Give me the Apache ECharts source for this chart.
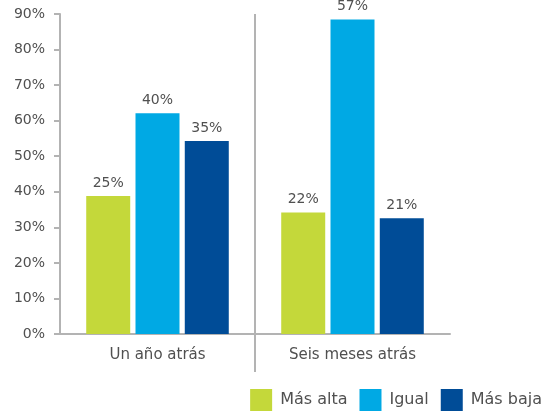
<!DOCTYPE html>
<html><head><meta charset="utf-8">
<script src="https://cdn.jsdelivr.net/npm/echarts@6/dist/echarts.min.js"></script>
<style>html,body{margin:0;padding:0;background:#fff}#c{width:558px;height:417px}</style>
</head><body><div id="c"></div>
<script>
const categories = ['Un año atrás', 'Seis meses atrás'];
const seriesNames = ['Más alta', 'Igual', 'Más baja'];
const masAlta = [25, 22];
const igual = [40, 57];
const masBaja = [35, 21];
const yTickLabels = ['0%', '10%', '20%', '30%', '40%', '50%', '60%', '70%', '80%', '90%'];
const colors = ['#c4d83a', '#00a9e4', '#004c97'];

const FONT = 'DejaVu Sans';
const AXIS = '#b3b3b3';
const TXT = '#505050';

const chart = echarts.init(document.getElementById('c'), null, {renderer: 'canvas'});

function barSeries(name, data, color) {
  return {
    name: name, type: 'bar', yAxisIndex: 1, data: data,
    barWidth: 44, barGap: '12%',
    itemStyle: {color: color},
    label: {show: true, position: 'top', distance: 6, formatter: '{c}%',
      fontFamily: FONT, fontSize: 14, color: TXT}
  };
}

chart.setOption({
  animation: false,
  backgroundColor: '#fff',
  grid: {left: 60, right: 108, top: 14, bottom: 83},
  legend: {
    data: seriesNames, right: 11, bottom: 1, icon: 'rect',
    itemWidth: 22, itemHeight: 22, itemGap: 12,
    textStyle: {fontFamily: FONT, fontSize: 16, color: TXT, padding: [0, 0, 0, 3]}
  },
  xAxis: {
    type: 'category', data: categories,
    axisLine: {lineStyle: {color: AXIS, width: 2}},
    axisTick: {length: 6, lineStyle: {color: AXIS, width: 2}},
    axisLabel: {fontFamily: FONT, fontSize: 15, color: TXT, margin: 14}
  },
  yAxis: [{
    type: 'value', min: 0, max: 90, interval: 10,
    axisLine: {show: true, lineStyle: {color: AXIS, width: 2}},
    axisTick: {show: true, length: 6, lineStyle: {color: AXIS, width: 2}},
    splitLine: {show: false},
    axisLabel: {fontFamily: FONT, fontSize: 14, color: TXT, margin: 15,
      formatter: function (v, i) { return yTickLabels[i]; }}
  }, {
    type: 'value', min: 0, max: 58, show: false, splitLine: {show: false}
  }],
  series: [
    barSeries(seriesNames[0], masAlta, colors[0]),
    barSeries(seriesNames[1], igual, colors[1]),
    barSeries(seriesNames[2], masBaja, colors[2]),
    {
      type: 'custom', xAxisIndex: 0, yAxisIndex: 0, silent: true, clip: false,
      data: [[0, 0]],
      renderItem: function (params, api) {
        const a = api.coord([0, 0]);
        const b = api.coord([1, 90]);
        const x = Math.round((a[0] + b[0]) / 2);
        return {type: 'line', shape: {x1: x, y1: b[1], x2: x, y2: a[1] + 38},
          style: {stroke: AXIS, lineWidth: 2}};
      }
    }
  ]
});
</script></body></html>
